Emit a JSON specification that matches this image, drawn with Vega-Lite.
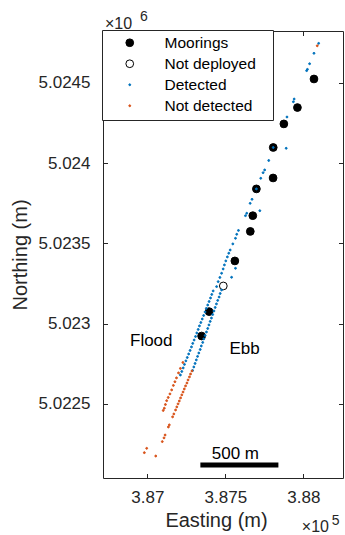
{
  "$schema": "https://vega.github.io/schema/vega-lite/v6.json",
  "width": 240,
  "height": 447,
  "autosize": {"type": "none"},
  "padding": {"left": 103, "top": 31, "right": 2, "bottom": 57},
  "background": "white",
  "config": {
    "view": {"stroke": "#262626", "strokeWidth": 1},
    "font": "Liberation Sans",
    "axis": {"grid": false, "domain": false, "tickSize": -4.5, "tickColor": "#262626", "tickWidth": 1, "labelColor": "#262626", "titleColor": "#262626", "labelFont": "Liberation Sans", "titleFont": "Liberation Sans", "labelFontSize": 17, "titleFontSize": 20, "titleFontWeight": "normal", "labelFlush": false}
  },
  "datasets": {
    "pts": [
      {"E":388068,"N":5024525,"type":"Moorings"},
      {"E":387962,"N":5024347,"type":"Moorings"},
      {"E":387875,"N":5024245,"type":"Moorings"},
      {"E":387807,"N":5024098,"type":"Moorings"},
      {"E":387806,"N":5023908,"type":"Moorings"},
      {"E":387699,"N":5023840,"type":"Moorings"},
      {"E":387676,"N":5023673,"type":"Moorings"},
      {"E":387660,"N":5023575,"type":"Moorings"},
      {"E":387561,"N":5023391,"type":"Moorings"},
      {"E":387396,"N":5023075,"type":"Moorings"},
      {"E":387348,"N":5022923,"type":"Moorings"},
      {"E":387487,"N":5023235,"type":"Not deployed"},
      {"E":388098,"N":5024747,"type":"Detected"},
      {"E":388068,"N":5024685,"type":"Detected"},
      {"E":388040,"N":5024620,"type":"Detected"},
      {"E":388026,"N":5024585,"type":"Detected"},
      {"E":388021,"N":5024577,"type":"Detected"},
      {"E":387941,"N":5024400,"type":"Detected"},
      {"E":387936,"N":5024383,"type":"Detected"},
      {"E":387895,"N":5024288,"type":"Detected"},
      {"E":387890,"N":5024093,"type":"Detected"},
      {"E":387807,"N":5024098,"type":"Detected"},
      {"E":387778,"N":5024017,"type":"Detected"},
      {"E":387752,"N":5023958,"type":"Detected"},
      {"E":387742,"N":5023941,"type":"Detected"},
      {"E":387727,"N":5023906,"type":"Detected"},
      {"E":387699,"N":5023840,"type":"Detected"},
      {"E":387671,"N":5023775,"type":"Detected"},
      {"E":387659,"N":5023750,"type":"Detected"},
      {"E":387721,"N":5023704,"type":"Detected"},
      {"E":387637,"N":5023688,"type":"Detected"},
      {"E":387629,"N":5023673,"type":"Detected"},
      {"E":387584,"N":5023581,"type":"Detected"},
      {"E":387573,"N":5023557,"type":"Detected"},
      {"E":387565,"N":5023532,"type":"Detected"},
      {"E":387548,"N":5023497,"type":"Detected"},
      {"E":387531,"N":5023459,"type":"Detected"},
      {"E":387522,"N":5023439,"type":"Detected"},
      {"E":387513,"N":5023416,"type":"Detected"},
      {"E":387503,"N":5023391,"type":"Detected"},
      {"E":387494,"N":5023366,"type":"Detected"},
      {"E":387486,"N":5023341,"type":"Detected"},
      {"E":387476,"N":5023314,"type":"Detected"},
      {"E":387465,"N":5023288,"type":"Detected"},
      {"E":387454,"N":5023262,"type":"Detected"},
      {"E":387444,"N":5023231,"type":"Detected"},
      {"E":387565,"N":5023345,"type":"Detected"},
      {"E":387540,"N":5023289,"type":"Detected"},
      {"E":387422,"N":5023204,"type":"Detected"},
      {"E":387413,"N":5023182,"type":"Detected"},
      {"E":387405,"N":5023160,"type":"Detected"},
      {"E":387396,"N":5023138,"type":"Detected"},
      {"E":387387,"N":5023116,"type":"Detected"},
      {"E":387378,"N":5023095,"type":"Detected"},
      {"E":387370,"N":5023073,"type":"Detected"},
      {"E":387361,"N":5023051,"type":"Detected"},
      {"E":387352,"N":5023029,"type":"Detected"},
      {"E":387343,"N":5023007,"type":"Detected"},
      {"E":387334,"N":5022986,"type":"Detected"},
      {"E":387326,"N":5022964,"type":"Detected"},
      {"E":387317,"N":5022942,"type":"Detected"},
      {"E":387309,"N":5022920,"type":"Detected"},
      {"E":387300,"N":5022898,"type":"Detected"},
      {"E":387291,"N":5022877,"type":"Detected"},
      {"E":387283,"N":5022855,"type":"Detected"},
      {"E":387274,"N":5022833,"type":"Detected"},
      {"E":387265,"N":5022811,"type":"Detected"},
      {"E":387256,"N":5022789,"type":"Detected"},
      {"E":387247,"N":5022768,"type":"Detected"},
      {"E":387238,"N":5022746,"type":"Detected"},
      {"E":387230,"N":5022724,"type":"Detected"},
      {"E":387221,"N":5022702,"type":"Detected"},
      {"E":387212,"N":5022680,"type":"Detected"},
      {"E":387476,"N":5023210,"type":"Detected"},
      {"E":387467,"N":5023188,"type":"Detected"},
      {"E":387460,"N":5023166,"type":"Detected"},
      {"E":387451,"N":5023145,"type":"Detected"},
      {"E":387443,"N":5023123,"type":"Detected"},
      {"E":387435,"N":5023101,"type":"Detected"},
      {"E":387427,"N":5023079,"type":"Detected"},
      {"E":387419,"N":5023057,"type":"Detected"},
      {"E":387411,"N":5023035,"type":"Detected"},
      {"E":387403,"N":5023014,"type":"Detected"},
      {"E":387395,"N":5022992,"type":"Detected"},
      {"E":387387,"N":5022970,"type":"Detected"},
      {"E":387379,"N":5022948,"type":"Detected"},
      {"E":387371,"N":5022926,"type":"Detected"},
      {"E":387362,"N":5022905,"type":"Detected"},
      {"E":387355,"N":5022883,"type":"Detected"},
      {"E":387346,"N":5022861,"type":"Detected"},
      {"E":387339,"N":5022839,"type":"Detected"},
      {"E":387330,"N":5022817,"type":"Detected"},
      {"E":387322,"N":5022796,"type":"Detected"},
      {"E":387314,"N":5022774,"type":"Detected"},
      {"E":387306,"N":5022752,"type":"Detected"},
      {"E":387298,"N":5022730,"type":"Detected"},
      {"E":387290,"N":5022708,"type":"Detected"},
      {"E":388089,"N":5024732,"type":"Not detected"},
      {"E":387228,"N":5022758,"type":"Not detected"},
      {"E":387212,"N":5022721,"type":"Not detected"},
      {"E":387200,"N":5022693,"type":"Not detected"},
      {"E":387187,"N":5022662,"type":"Not detected"},
      {"E":387177,"N":5022638,"type":"Not detected"},
      {"E":387167,"N":5022615,"type":"Not detected"},
      {"E":387156,"N":5022587,"type":"Not detected"},
      {"E":387145,"N":5022562,"type":"Not detected"},
      {"E":387134,"N":5022540,"type":"Not detected"},
      {"E":387124,"N":5022520,"type":"Not detected"},
      {"E":387116,"N":5022496,"type":"Not detected"},
      {"E":387109,"N":5022473,"type":"Not detected"},
      {"E":387102,"N":5022459,"type":"Not detected"},
      {"E":386996,"N":5022223,"type":"Not detected"},
      {"E":386981,"N":5022196,"type":"Not detected"},
      {"E":387286,"N":5022705,"type":"Not detected"},
      {"E":387277,"N":5022686,"type":"Not detected"},
      {"E":387270,"N":5022668,"type":"Not detected"},
      {"E":387261,"N":5022649,"type":"Not detected"},
      {"E":387254,"N":5022630,"type":"Not detected"},
      {"E":387245,"N":5022612,"type":"Not detected"},
      {"E":387237,"N":5022593,"type":"Not detected"},
      {"E":387229,"N":5022574,"type":"Not detected"},
      {"E":387221,"N":5022556,"type":"Not detected"},
      {"E":387213,"N":5022537,"type":"Not detected"},
      {"E":387205,"N":5022518,"type":"Not detected"},
      {"E":387197,"N":5022500,"type":"Not detected"},
      {"E":387189,"N":5022481,"type":"Not detected"},
      {"E":387181,"N":5022462,"type":"Not detected"},
      {"E":387170,"N":5022437,"type":"Not detected"},
      {"E":387162,"N":5022419,"type":"Not detected"},
      {"E":387141,"N":5022369,"type":"Not detected"},
      {"E":387135,"N":5022356,"type":"Not detected"},
      {"E":387114,"N":5022306,"type":"Not detected"},
      {"E":387107,"N":5022288,"type":"Not detected"},
      {"E":387096,"N":5022265,"type":"Not detected"},
      {"E":387054,"N":5022175,"type":"Not detected"}
    ],
    "bar": [{"E1":387340,"E2":387840,"N":5022119}],
    "annot": [
      {"t":"Flood","E":386889,"N":5022861},
      {"t":"Ebb","E":387526,"N":5022811},
      {"t":"500 m","E":387413,"N":5022155}
    ],
    "expo": [
      {"t":"×10","E":386729,"N":5024837},
      {"t":"×10","E":387990,"N":5021704}
    ],
    "sup": [
      {"t":"6","E":386953,"N":5024888},
      {"t":"5","E":388182,"N":5021746}
    ]
  },
  "layer": [
    {
      "data": {"name": "pts"},
      "mark": {"type": "point", "filled": true, "opacity": 1, "strokeWidth": 1},
      "encoding": {
        "x": {"field": "E", "type": "quantitative",
          "scale": {"domain": [386716, 388254], "zero": false, "nice": false},
          "axis": {"title": "Easting (m)", "values": [387000, 387500, 388000], "labelExpr": "format(datum.value/100000, '.3~f')", "labelPadding": 15.8, "titleX": 113, "titleY": 48, "titleBaseline": "alphabetic"}},
        "y": {"field": "N", "type": "quantitative",
          "scale": {"domain": [5022038, 5024824], "zero": false, "nice": false},
          "axis": {"title": "Northing (m)", "values": [5022500, 5023000, 5023500, 5024000, 5024500], "labelExpr": "format(datum.value/1000000, '.4~f')", "labelPadding": 17.5, "titleX": -77, "titleY": 223.5, "titleBaseline": "alphabetic", "titleAngle": -90}},
        "fill": {"field": "type", "type": "nominal",
          "scale": {"domain": ["Moorings", "Not deployed", "Detected", "Not detected"], "range": ["#000000", "#ffffff", "#0072BD", "#D95319"]},
          "legend": {"title": "x", "titleOrient": "right", "titleColor": "white", "titleFontSize": 10, "titlePadding": 6, "orient": "none", "legendX": -1, "legendY": -1, "padding": 5, "strokeColor": "#262626", "fillColor": "white", "labelFontSize": 15.5, "labelFont": "Liberation Sans", "labelColor": "#000000", "symbolStrokeWidth": 1, "symbolOffset": 15, "labelOffset": 27, "rowPadding": 4}},
        "stroke": {"field": "type", "type": "nominal",
          "scale": {"domain": ["Moorings", "Not deployed", "Detected", "Not detected"], "range": ["#000000", "#000000", "#0072BD", "#D95319"]},
          "legend": {"title": "x", "titleOrient": "right", "titleColor": "white", "titleFontSize": 10, "titlePadding": 6, "orient": "none", "legendX": -1, "legendY": -1, "padding": 5, "strokeColor": "#262626", "fillColor": "white", "labelFontSize": 15.5, "labelFont": "Liberation Sans", "labelColor": "#000000", "symbolStrokeWidth": 1, "symbolOffset": 15, "labelOffset": 27, "rowPadding": 4}},
        "size": {"field": "type", "type": "nominal",
          "scale": {"type": "ordinal", "domain": ["Moorings", "Not deployed", "Detected", "Not detected"], "range": [60, 60, 3.5, 3.5]},
          "legend": {"title": "x", "titleOrient": "right", "titleColor": "white", "titleFontSize": 10, "titlePadding": 6, "orient": "none", "legendX": -1, "legendY": -1, "padding": 5, "strokeColor": "#262626", "fillColor": "white", "labelFontSize": 15.5, "labelFont": "Liberation Sans", "labelColor": "#000000", "symbolStrokeWidth": 1, "symbolOffset": 15, "labelOffset": 27, "rowPadding": 4}}
      }
    },
    {
      "data": {"name": "bar"},
      "mark": {"type": "rule", "strokeWidth": 5, "color": "#000000"},
      "encoding": {
        "x": {"field": "E1", "type": "quantitative",
          "scale": {"domain": [386716, 388254], "zero": false, "nice": false},
          "axis": {"orient": "top", "labels": false, "title": null, "values": [387000, 387500, 388000]}},
        "x2": {"field": "E2"},
        "y": {"field": "N", "type": "quantitative",
          "scale": {"domain": [5022038, 5024824], "zero": false, "nice": false},
          "axis": {"orient": "right", "labels": false, "title": null, "values": [5022500, 5023000, 5023500, 5024000, 5024500]}}
      }
    },
    {
      "data": {"name": "annot"},
      "mark": {"type": "text", "fontSize": 17, "font": "Liberation Sans", "align": "left", "baseline": "alphabetic", "color": "#000000"},
      "encoding": {
        "x": {"field": "E", "type": "quantitative", "scale": {"domain": [386716, 388254], "zero": false, "nice": false}, "axis": null},
        "y": {"field": "N", "type": "quantitative", "scale": {"domain": [5022038, 5024824], "zero": false, "nice": false}, "axis": null},
        "text": {"field": "t"}
      }
    },
    {
      "data": {"name": "expo"},
      "mark": {"type": "text", "fontSize": 16, "font": "Liberation Sans", "align": "left", "baseline": "alphabetic", "color": "#262626"},
      "encoding": {
        "x": {"field": "E", "type": "quantitative", "scale": {"domain": [386716, 388254], "zero": false, "nice": false}, "axis": null},
        "y": {"field": "N", "type": "quantitative", "scale": {"domain": [5022038, 5024824], "zero": false, "nice": false}, "axis": null},
        "text": {"field": "t"}
      }
    },
    {
      "data": {"name": "sup"},
      "mark": {"type": "text", "fontSize": 14, "font": "Liberation Sans", "align": "left", "baseline": "alphabetic", "color": "#262626"},
      "encoding": {
        "x": {"field": "E", "type": "quantitative", "scale": {"domain": [386716, 388254], "zero": false, "nice": false}, "axis": null},
        "y": {"field": "N", "type": "quantitative", "scale": {"domain": [5022038, 5024824], "zero": false, "nice": false}, "axis": null},
        "text": {"field": "t"}
      }
    }
  ],
  "resolve": {"axis": {"x": "independent", "y": "independent"}}
}
